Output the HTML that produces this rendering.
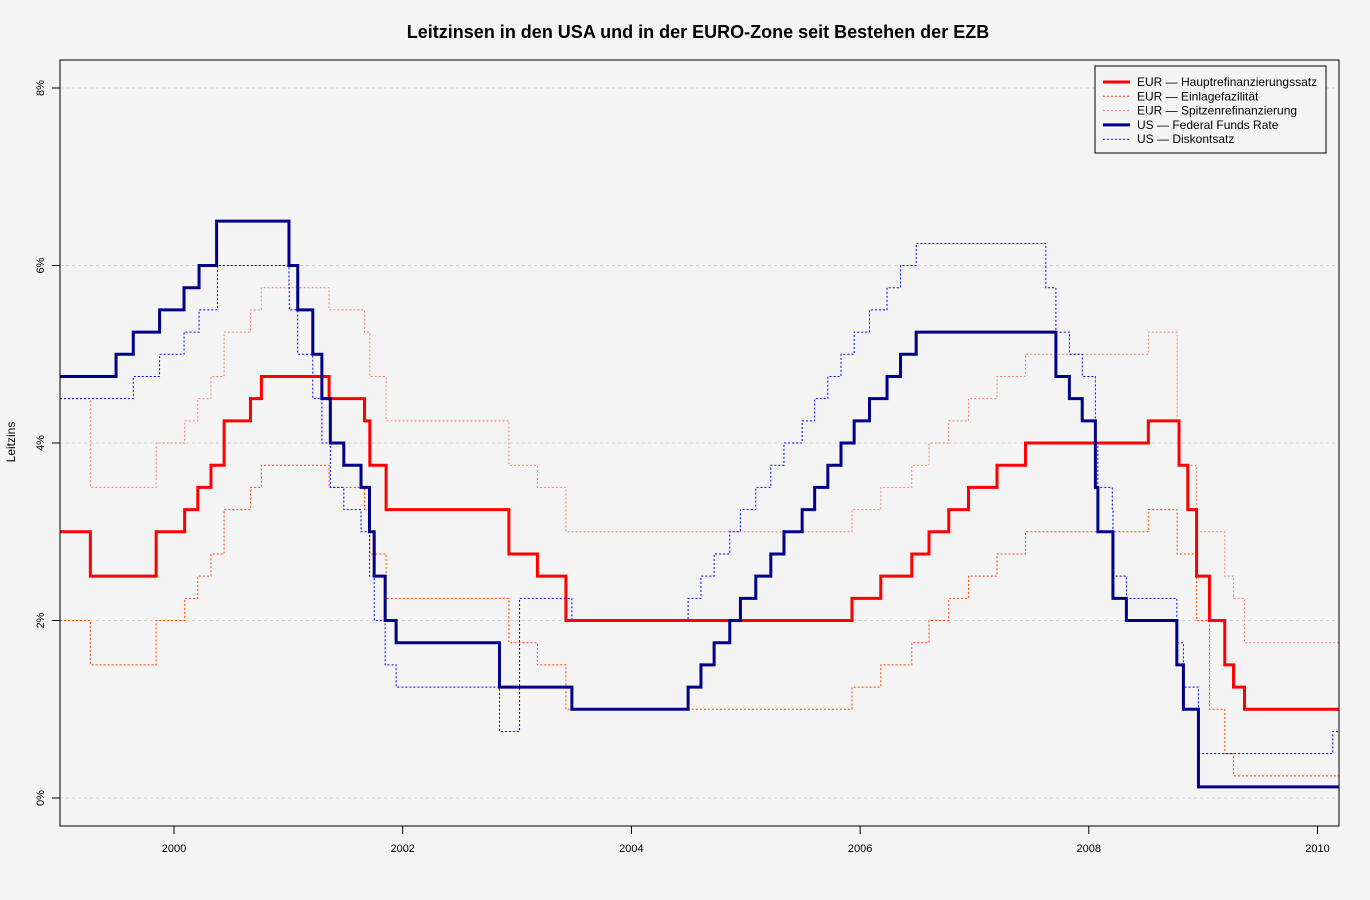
<!DOCTYPE html>
<html><head><meta charset="utf-8"><style>
body{margin:0;background:#f4f4f4;}
svg{display:block;font-family:"Liberation Sans",Arial,sans-serif;}
</style></head><body>
<svg id="chart" width="1370" height="900" viewBox="0 0 1370 900">
<rect x="0" y="0" width="1370" height="900" fill="#f4f4f4"/>
<text x="698" y="38" text-anchor="middle" font-size="18" font-weight="bold">Leitzinsen in den USA und in der EURO-Zone seit Bestehen der EZB</text>
<text transform="translate(15,442) rotate(-90)" text-anchor="middle" font-size="12">Leitzins</text>
<g id="grid"></g><g id="axes"></g><g id="series"></g>
<rect x="60" y="60" width="1279" height="766" fill="none" stroke="#000"/>
<g id="legend"></g>
</svg>
<script>
const yTicks=[0,2,4,6,8];
const xTicks=[2000,2002,2004,2006,2008,2010];
const mro=[["1999-01-01",3],["1999-04-09",2.5],["1999-11-05",3],["2000-02-04",3.25],["2000-03-17",3.5],["2000-04-28",3.75],["2000-06-09",4.25],["2000-09-01",4.5],["2000-10-06",4.75],["2001-05-11",4.5],["2001-09-01",4.25],["2001-09-18",3.75],["2001-11-09",3.25],["2002-12-06",2.75],["2003-03-07",2.5],["2003-06-06",2],["2005-12-06",2.25],["2006-03-08",2.5],["2006-06-15",2.75],["2006-08-09",3],["2006-10-11",3.25],["2006-12-13",3.5],["2007-03-14",3.75],["2007-06-13",4],["2008-07-09",4.25],["2008-10-15",3.75],["2008-11-12",3.25],["2008-12-10",2.5],["2009-01-21",2],["2009-03-11",1.5],["2009-04-08",1.25],["2009-05-13",1]];
const deposit=[["1999-01-01",2],["1999-04-09",1.5],["1999-11-05",2],["2000-02-04",2.25],["2000-03-17",2.5],["2000-04-28",2.75],["2000-06-09",3.25],["2000-09-01",3.5],["2000-10-06",3.75],["2001-05-11",3.5],["2001-09-01",3.25],["2001-09-18",2.75],["2001-11-09",2.25],["2002-12-06",1.75],["2003-03-07",1.5],["2003-06-06",1],["2005-12-06",1.25],["2006-03-08",1.5],["2006-06-15",1.75],["2006-08-09",2],["2006-10-11",2.25],["2006-12-13",2.5],["2007-03-14",2.75],["2007-06-13",3],["2008-07-09",3.25],["2008-10-09",2.75],["2008-12-10",2],["2009-01-21",1],["2009-03-11",0.5],["2009-04-08",0.25]];
const lending=[["1999-01-01",4.5],["1999-04-09",3.5],["1999-11-05",4],["2000-02-04",4.25],["2000-03-17",4.5],["2000-04-28",4.75],["2000-06-09",5.25],["2000-09-01",5.5],["2000-10-06",5.75],["2001-05-11",5.5],["2001-09-01",5.25],["2001-09-18",4.75],["2001-11-09",4.25],["2002-12-06",3.75],["2003-03-07",3.5],["2003-06-06",3],["2005-12-06",3.25],["2006-03-08",3.5],["2006-06-15",3.75],["2006-08-09",4],["2006-10-11",4.25],["2006-12-13",4.5],["2007-03-14",4.75],["2007-06-13",5],["2008-07-09",5.25],["2008-10-09",4.25],["2008-10-15",3.75],["2008-12-10",3],["2009-03-11",2.5],["2009-04-08",2.25],["2009-05-13",1.75]];
const fedFunds=[["1999-01-01",4.75],["1999-06-30",5],["1999-08-24",5.25],["1999-11-16",5.5],["2000-02-02",5.75],["2000-03-21",6],["2000-05-16",6.5],["2001-01-03",6],["2001-01-31",5.5],["2001-03-20",5],["2001-04-18",4.5],["2001-05-15",4],["2001-06-27",3.75],["2001-08-21",3.5],["2001-09-17",3],["2001-10-02",2.5],["2001-11-06",2],["2001-12-11",1.75],["2002-11-06",1.25],["2003-06-25",1],["2004-06-30",1.25],["2004-08-10",1.5],["2004-09-21",1.75],["2004-11-10",2],["2004-12-14",2.25],["2005-02-02",2.5],["2005-03-22",2.75],["2005-05-03",3],["2005-06-30",3.25],["2005-08-09",3.5],["2005-09-20",3.75],["2005-11-01",4],["2005-12-13",4.25],["2006-01-31",4.5],["2006-03-28",4.75],["2006-05-10",5],["2006-06-29",5.25],["2007-09-18",4.75],["2007-10-31",4.5],["2007-12-11",4.25],["2008-01-22",3.5],["2008-01-30",3],["2008-03-18",2.25],["2008-04-30",2],["2008-10-08",1.5],["2008-10-29",1],["2008-12-16",0.125]];
const discount=[["1999-01-01",4.5],["1999-08-24",4.75],["1999-11-16",5],["2000-02-02",5.25],["2000-03-21",5.5],["2000-05-19",6],["2001-01-03",5.75],["2001-01-04",5.5],["2001-01-31",5],["2001-03-20",4.5],["2001-04-18",4],["2001-05-15",3.5],["2001-06-27",3.25],["2001-08-21",3],["2001-09-17",2.5],["2001-10-02",2],["2001-11-06",1.5],["2001-12-11",1.25],["2002-11-06",0.75],["2003-01-09",2.25],["2003-06-25",2],["2004-06-30",2.25],["2004-08-10",2.5],["2004-09-21",2.75],["2004-11-10",3],["2004-12-14",3.25],["2005-02-02",3.5],["2005-03-22",3.75],["2005-05-03",4],["2005-06-30",4.25],["2005-08-09",4.5],["2005-09-20",4.75],["2005-11-01",5],["2005-12-13",5.25],["2006-01-31",5.5],["2006-03-28",5.75],["2006-05-10",6],["2006-06-29",6.25],["2007-08-17",5.75],["2007-09-18",5.25],["2007-10-31",5],["2007-12-11",4.75],["2008-01-22",4],["2008-01-30",3.5],["2008-03-16",3.25],["2008-03-18",2.5],["2008-04-30",2.25],["2008-10-08",1.75],["2008-10-29",1.25],["2008-12-16",0.5],["2010-02-19",0.75]];
const legendLabels=["EUR — Hauptrefinanzierungssatz","EUR — Einlagefazilität","EUR — Spitzenrefinanzierung","US — Federal Funds Rate","US — Diskontsatz"];

const NS="http://www.w3.org/2000/svg";
const X0=60,X1=1339,Xmax=2010.19;
function toYear(s){const d=new Date(s+"T00:00:00Z");const y=d.getUTCFullYear();const st=Date.UTC(y,0,1);return y+(d-st)/(86400000*365);}
function xs(yr){return 174+(yr-2000)*114.35;}
function ys(v){return 798-v*88.75;}
function mk(tag,attrs,parent){const e=document.createElementNS(NS,tag);for(const k in attrs)e.setAttribute(k,attrs[k]);parent.appendChild(e);return e;}
const grid=document.getElementById('grid'),axes=document.getElementById('axes'),ser=document.getElementById('series'),leg=document.getElementById('legend');
yTicks.forEach(v=>{
  const l=mk('line',{x1:X0,x2:X1,y1:ys(v),y2:ys(v),stroke:'#d0d0d0','stroke-dasharray':'3,3'},grid);
  
  
  const t=mk('line',{x1:52,x2:60,y1:ys(v),y2:ys(v),stroke:'#000'},axes);
  
  
  const tx=mk('text',{transform:`translate(44,${ys(v)}) rotate(-90)`,'text-anchor':'middle','font-size':11},axes);
  tx.textContent=v+'%';
  
  
});
xTicks.forEach(v=>{
  const t=mk('line',{x1:xs(v),x2:xs(v),y1:826,y2:834,stroke:'#000'},axes);
  
  
  const tx=mk('text',{x:xs(v),y:852,'text-anchor':'middle','font-size':11},axes);
  tx.textContent=v;
  
  
});
function stepPath(data){
  let d='';
  data.forEach((p,i)=>{const x=Math.max(X0,xs(toYear(p[0]))),y=ys(p[1]);
    if(i===0)d+=`M${x},${y}`;else d+=`H${x}V${y}`;});
  d+=`H${X1}`;return d;
}
const styles=[
 [deposit,'#ff4500',1,'2,2','eur-deposit-line'],
 [lending,'#fa8072',1,'2,2','eur-lending-line'],
 [discount,'#0000ff',1,'2,2','us-discount-line'],
 [mro,'#ff0000',3,null,'eur-mro-line'],
 [fedFunds,'#00008b',3,null,'us-fed-funds-line']];
styles.forEach(s=>{
  const a={d:stepPath(s[0]),fill:'none',stroke:s[1],'stroke-width':s[2]};
  if(s[3])a['stroke-dasharray']=s[3];
  const p=mk('path',a,ser);
  
  
});
const lb=mk('rect',{x:1095,y:66,width:231,height:87,fill:'#f4f4f4',stroke:'#000'},leg);


const legStyles=[['#ff0000',3,null],['#ff4500',1,'2,2'],['#fa8072',1,'2,2'],['#00008b',3,null],['#0000ff',1,'2,2']];
legendLabels.forEach((t,i)=>{
  const y=82+i*14.3;
  const a={x1:1103,x2:1130,y1:y,y2:y,stroke:legStyles[i][0],'stroke-width':legStyles[i][1]};
  if(legStyles[i][2])a['stroke-dasharray']=legStyles[i][2];
  const l=mk('line',a,leg);
  
  
  const tx=mk('text',{x:1137,y:y+4,'font-size':12},leg);
  tx.textContent=t;
  
  
});
</script>
</body></html>
